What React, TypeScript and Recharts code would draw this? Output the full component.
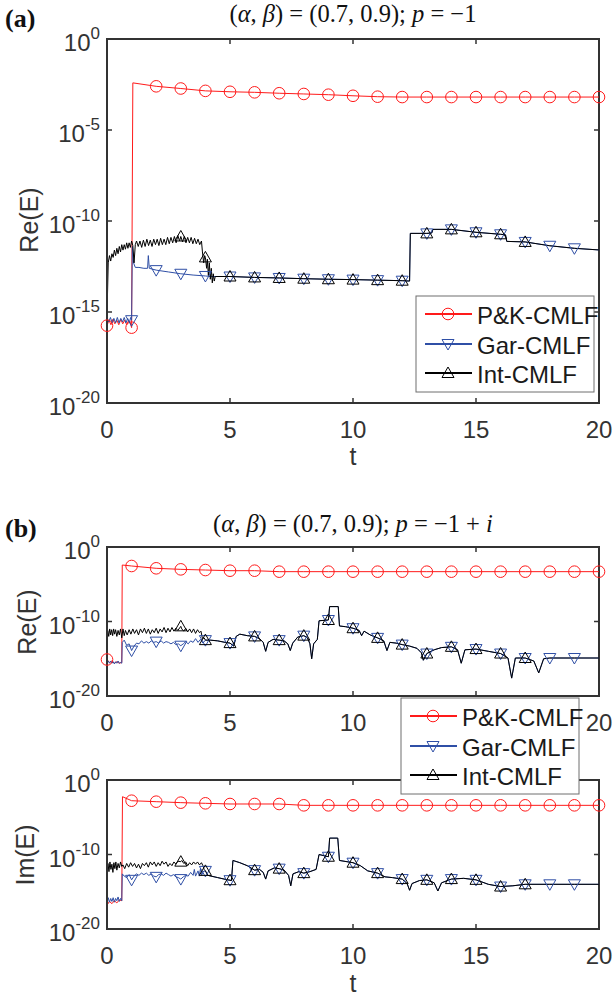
import React from 'react';
import { LineChart, Line, XAxis, YAxis, ReferenceArea } from 'recharts';

// ---------- labels ----------
const xTicks = [0, 5, 10, 15, 20];
const yTicksA = [1e-20, 1e-15, 1e-10, 1e-5, 1];
const yTicksB = [1e-20, 1e-10, 1];
const seriesNames = ['P&K-CMLF', 'Gar-CMLF', 'Int-CMLF'];
const seriesColors = ['#ff1a1a', '#2f4fa6', '#000000'];

// ---------- marker positions (t) ----------
const marksRed0 = [0, 1, 2, 3, 4, 5, 6, 7, 8, 9, 10, 11, 12, 13, 14, 15, 16, 17, 18, 19, 20];
const marksRed1 = [1, 2, 3, 4, 5, 6, 7, 8, 9, 10, 11, 12, 13, 14, 15, 16, 17, 18, 19, 20];
const marksBlue = [1, 2, 3, 4, 5, 6, 7, 8, 9, 10, 11, 12, 13, 14, 15, 16, 17, 18, 19];
const marksBlack = [3, 4, 5, 6, 7, 8, 9, 10, 11, 12, 13, 14, 15, 16, 17];

// ---------- panel (a): [t, log10 Re(E)] ----------
const aRedLog = [
  [0, -15.75], [0.08, -15.45], [0.16, -15.7], [0.24, -15.4], [0.32, -15.65], [0.4, -15.45], [0.48, -15.7],
  [0.56, -15.4], [0.64, -15.65], [0.72, -15.45], [0.8, -15.7], [0.88, -15.45], [0.95, -15.6], [1, -15.86],
  [1.05, -2.41], [2, -2.6], [3, -2.72], [4, -2.85], [5, -2.9], [6, -2.93], [7, -2.98], [8, -3.02], [9, -3.06],
  [10, -3.12], [11, -3.17], [12, -3.19], [13, -3.19], [14, -3.19], [15, -3.19], [16, -3.19], [17, -3.19],
  [18, -3.19], [19, -3.19], [20, -3.19],
];
const aBlueHeadLog = [
  [0, -15.3], [0.07, -15.55], [0.14, -15.3], [0.21, -15.6], [0.28, -15.35], [0.35, -15.6], [0.42, -15.3],
  [0.49, -15.6], [0.56, -15.35], [0.63, -15.55], [0.7, -15.3], [0.77, -15.6], [0.84, -15.35], [0.91, -15.6],
  [0.96, -15.3], [1, -15.45], [1.03, -11.4], [1.08, -12.3], [1.15, -12.55], [1.3, -12.55], [1.5, -12.6],
  [1.65, -12.6], [1.68, -11.9], [1.72, -12.6], [2, -12.7], [2.5, -12.8], [3, -12.9], [3.5, -12.97],
  [4, -13.02], [4.2, -13.05],
];
const aBlackHeadLog = [
  [0, -15.2], [0.05, -12.3], [0.1, -11.9], [0.15, -12.2], [0.2, -11.8], [0.25, -12.0], [0.3, -11.6],
  [0.35, -11.9], [0.4, -11.5], [0.45, -11.8], [0.5, -11.4], [0.55, -11.7], [0.6, -11.3], [0.65, -11.6],
  [0.7, -11.3], [0.75, -11.55], [0.8, -11.2], [0.85, -11.5], [0.9, -11.2], [0.95, -11.45], [1, -11.1],
  [1.05, -11.35], [1.1, -12.3], [1.15, -11.3], [1.2, -11.1], [1.27, -11.4], [1.34, -11.1], [1.41, -11.45],
  [1.48, -11.05], [1.55, -11.4], [1.62, -11.0], [1.69, -11.35], [1.76, -11.05], [1.83, -11.4], [1.9, -11.0],
  [1.97, -11.3], [2.04, -11.0], [2.11, -11.35], [2.18, -10.95], [2.25, -11.3], [2.32, -11.0], [2.39, -11.3],
  [2.46, -10.9], [2.53, -11.25], [2.6, -10.9], [2.67, -11.2], [2.74, -10.85], [2.81, -11.2], [2.88, -10.8],
  [2.95, -11.1], [3, -10.85], [3.07, -11.15], [3.14, -10.85], [3.21, -11.2], [3.28, -10.9], [3.35, -11.2],
  [3.42, -10.9], [3.49, -11.25], [3.56, -10.95], [3.63, -11.25], [3.7, -11.0], [3.77, -11.3], [3.84, -11.1],
  [3.88, -11.7], [3.93, -12.3], [3.97, -11.9], [4, -12.0], [4.05, -12.6], [4.08, -12.1], [4.12, -13.0],
  [4.16, -12.3], [4.2, -13.2], [4.24, -12.6], [4.28, -13.4], [4.32, -12.9], [4.36, -13.3],
];
const aTailLog = [
  [4.4, -13.05], [5, -13.05], [6, -13.1], [7, -13.13], [8, -13.17], [9, -13.2], [10, -13.22], [11, -13.25],
  [12, -13.28], [12.3, -13.3], [12.33, -10.68], [13, -10.68], [13.2, -10.66], [13.25, -10.46], [14, -10.46],
  [15, -10.62], [16, -10.73], [16.2, -10.76], [16.25, -11.12], [17, -11.15], [18, -11.36], [19, -11.5],
  [20, -11.59],
];

// ---------- panel (b) top: [t, log10 Re(E)] ----------
const b1RedLog = [
  [0, -15.1], [0.1, -15.5], [0.2, -15.3], [0.3, -15.6], [0.4, -15.4], [0.5, -15.6], [0.6, -15.5],
  [0.62, -2.42], [1, -2.55], [2, -2.86], [3, -3.0], [4, -3.09], [5, -3.18], [6, -3.18], [7, -3.31],
  [8, -3.31], [9, -3.31], [10, -3.31], [11, -3.31], [12, -3.31], [13, -3.31], [14, -3.31], [15, -3.31],
  [16, -3.31], [17, -3.31], [18, -3.31], [19, -3.31], [20, -3.31],
];
const b1BlueHeadLog = [
  [0, -15.5], [0.05, -15.3], [0.1, -15.6], [0.15, -15.3], [0.2, -15.6], [0.25, -15.4], [0.3, -15.7],
  [0.35, -15.4], [0.4, -15.6], [0.45, -15.3], [0.5, -15.6], [0.55, -15.5], [0.6, -15.6], [0.62, -12.8],
  [0.7, -12.5], [0.8, -13.2], [0.9, -13.0], [1, -13.9], [1.1, -13.3], [1.2, -12.9], [1.3, -13.0],
  [1.4, -12.6], [1.5, -12.9], [1.6, -12.7], [1.7, -12.9], [1.8, -12.6], [1.9, -12.8], [2, -12.7],
  [2.1, -12.9], [2.2, -12.6], [2.3, -12.9], [2.4, -12.7], [2.5, -12.8], [2.6, -13.0], [2.7, -12.8],
  [2.8, -13.1], [2.9, -13.0], [3, -13.25], [3.1, -13.0], [3.2, -12.7], [3.3, -13.0], [3.4, -12.6],
  [3.5, -12.8], [3.6, -12.3], [3.7, -12.8], [3.8, -12.4], [3.9, -12.9],
];
const b1BlackHeadLog = [
  [0, -13.5], [0.03, -11.2], [0.07, -12.0], [0.11, -11.0], [0.15, -11.8], [0.19, -11.1], [0.23, -11.9],
  [0.27, -11.0], [0.31, -11.7], [0.35, -11.1], [0.4, -12.0], [0.45, -11.2], [0.5, -11.8], [0.55, -11.0],
  [0.6, -12.2], [0.65, -11.0], [0.7, -11.9], [0.75, -11.2], [0.82, -11.8], [0.9, -11.1], [0.97, -11.7],
  [1.05, -11.0], [1.12, -11.6], [1.2, -11.1], [1.28, -11.8], [1.36, -11.0], [1.44, -11.5], [1.52, -10.9],
  [1.6, -11.6], [1.68, -11.0], [1.76, -11.7], [1.84, -11.1], [1.92, -11.5], [2, -10.9], [2.08, -11.6],
  [2.16, -11.0], [2.24, -11.4], [2.32, -10.8], [2.4, -11.5], [2.48, -10.9], [2.56, -11.4], [2.64, -10.8],
  [2.72, -11.3], [2.8, -10.9], [2.88, -11.2], [3, -10.65], [3.04, -11.0], [3.12, -11.3], [3.2, -10.9],
  [3.28, -11.4], [3.36, -11.0], [3.44, -11.5], [3.52, -11.0], [3.6, -11.6], [3.68, -11.1], [3.76, -11.5],
  [3.82, -11.3], [3.88, -12.3], [3.95, -12.2],
];
const b1TailLog = [
  [4, -12.5], [4.2, -12.5], [4.5, -12.6], [4.8, -12.8], [5, -12.9], [5.15, -13.3], [5.25, -12.0],
  [5.4, -11.7], [5.7, -11.9], [6, -12.0], [6.2, -12.3], [6.35, -12.8], [6.45, -14.0], [6.55, -12.8],
  [6.75, -12.4], [7, -12.5], [7.2, -12.6], [7.35, -13.0], [7.45, -13.9], [7.55, -12.9], [7.75, -12.1],
  [8, -11.9], [8.15, -12.2], [8.25, -13.0], [8.32, -15.0], [8.4, -13.0], [8.55, -12.4], [8.62, -9.9],
  [9, -9.8], [9.05, -8.0], [9.4, -8.0], [9.45, -10.6], [9.7, -10.7], [10, -10.9], [10.25, -11.2],
  [10.35, -11.9], [10.45, -11.3], [10.7, -11.8], [11, -12.2], [11.25, -12.6], [11.38, -13.9], [11.5, -12.8],
  [11.75, -12.9], [12, -13.1], [12.3, -13.3], [12.6, -13.6], [12.78, -14.2], [12.86, -15.2], [13, -14.3],
  [13.3, -13.8], [13.6, -13.5], [14, -13.4], [14.25, -13.8], [14.4, -15.6], [14.55, -13.8], [15, -13.7],
  [15.5, -14.0], [16, -14.3], [16.3, -14.9], [16.45, -17.6], [16.6, -14.9], [17, -14.9], [17.35, -15.3],
  [17.55, -16.9], [17.75, -15.0], [18, -14.9], [19, -14.9], [20, -14.9],
];

// ---------- panel (b) bottom: [t, log10 Im(E)] ----------
const b2RedLog = [
  [0, -16.8], [0.1, -16.3], [0.2, -16.6], [0.3, -16.2], [0.4, -16.5], [0.5, -16.1], [0.6, -16.2],
  [0.63, -2.24], [1, -2.78], [2, -2.91], [3, -3.04], [4, -3.13], [5, -3.22], [6, -3.22], [7, -3.22],
  [8, -3.4], [9, -3.4], [10, -3.4], [11, -3.4], [12, -3.4], [13, -3.4], [14, -3.4], [15, -3.4], [16, -3.4],
  [17, -3.4], [18, -3.4], [19, -3.4], [20, -3.4],
];
const b2BlueHeadLog = [
  [0, -16.3], [0.05, -15.8], [0.1, -16.4], [0.15, -15.9], [0.2, -16.3], [0.25, -15.8], [0.3, -16.4],
  [0.35, -15.9], [0.4, -16.2], [0.45, -15.7], [0.5, -16.3], [0.55, -15.9], [0.6, -16.2], [0.62, -12.6],
  [0.7, -12.9], [0.8, -13.1], [0.9, -12.7], [1, -13.4], [1.1, -12.9], [1.2, -12.6], [1.3, -12.8],
  [1.4, -12.5], [1.5, -12.7], [1.6, -12.5], [1.7, -12.8], [1.8, -12.6], [1.9, -12.9], [2, -13.0],
  [2.1, -12.7], [2.2, -12.6], [2.3, -12.8], [2.4, -12.5], [2.5, -12.7], [2.6, -12.9], [2.7, -12.7],
  [2.8, -13.0], [2.9, -13.1], [3, -13.3], [3.1, -13.0], [3.2, -12.8], [3.3, -12.9], [3.4, -12.4],
  [3.5, -12.8], [3.55, -12.0], [3.6, -12.9], [3.7, -12.2], [3.75, -12.9], [3.8, -11.9], [3.85, -12.8],
  [3.9, -12.3],
];
const b2BlackHeadLog = [
  [0, -12.6], [0.04, -11.2], [0.08, -12.3], [0.12, -11.0], [0.16, -12.0], [0.2, -11.3], [0.24, -12.4],
  [0.28, -11.1], [0.32, -11.9], [0.36, -11.0], [0.4, -12.1], [0.45, -11.2], [0.5, -11.8], [0.55, -11.0],
  [0.6, -11.6], [0.65, -11.4], [0.72, -11.9], [0.8, -11.2], [0.88, -11.7], [0.96, -11.1], [1.04, -11.6],
  [1.12, -11.2], [1.2, -11.8], [1.28, -11.3], [1.36, -11.9], [1.44, -11.2], [1.52, -11.5], [1.6, -11.1],
  [1.68, -11.7], [1.76, -11.0], [1.84, -11.4], [1.92, -11.0], [2, -11.6], [2.08, -11.1], [2.16, -11.5],
  [2.24, -10.9], [2.32, -11.3], [2.4, -11.0], [2.48, -11.6], [2.56, -11.2], [2.64, -11.5], [2.72, -11.0],
  [2.8, -11.3], [2.88, -10.9], [3, -10.96], [3.04, -10.8], [3.12, -11.2], [3.2, -11.0], [3.28, -11.5],
  [3.36, -11.1], [3.44, -11.4], [3.52, -11.0], [3.6, -11.3], [3.68, -11.0], [3.76, -11.4], [3.84, -11.1],
  [3.9, -11.5], [3.95, -12.0],
];
const b2TailLog = [
  [4, -12.2], [4.1, -12.8], [4.5, -13.1], [4.9, -13.4], [5, -13.45], [5.06, -13.5], [5.12, -10.8],
  [5.4, -11.1], [5.7, -11.5], [6, -12.1], [6.2, -12.0], [6.35, -12.4], [6.45, -13.3], [6.55, -12.2],
  [6.8, -11.8], [7, -11.9], [7.2, -12.1], [7.38, -12.8], [7.47, -14.2], [7.56, -12.6], [7.8, -12.3],
  [8, -12.5], [8.25, -12.3], [8.5, -12.0], [8.62, -10.0], [9, -10.3], [9.05, -7.8], [9.38, -7.8],
  [9.45, -10.8], [10, -11.1], [10.3, -11.5], [10.6, -12.2], [11, -12.5], [11.3, -13.0], [11.6, -13.1],
  [12, -13.3], [12.2, -13.9], [12.3, -14.8], [12.4, -13.9], [12.7, -13.5], [13, -13.4], [13.3, -13.8],
  [13.45, -14.9], [13.6, -13.8], [14, -13.3], [14.5, -13.2], [15, -13.4], [15.5, -14.0], [16, -14.3],
  [16.5, -14.2], [17, -14.0], [18, -14.0], [19, -14.0], [20, -14.0],
];

// ---------- helpers ----------
const toRows = (pts: number[][]) => pts.map(([t, e]) => ({ t, v: Math.pow(10, e) }));

const AX = '#333333';
const FONT = '"Liberation Sans", Arial, Helvetica, sans-serif';
const SERIF = '"Liberation Serif", "Times New Roman", serif';
const PLOT_L = 107;
const PLOT_R = 599;
const TICK_FS = 24;

function Marker({ cx, cy, kind, color }: any) {
  if (kind === 'circle') return <circle cx={cx} cy={cy} r={5.8} fill="none" stroke={color} strokeWidth={1} />;
  if (kind === 'down')
    return <path d={`M${cx - 6},${cy - 4.5} L${cx + 6},${cy - 4.5} L${cx},${cy + 6} Z`} fill="none" stroke={color} strokeWidth={1} />;
  return <path d={`M${cx - 6},${cy + 4.5} L${cx + 6},${cy + 4.5} L${cx},${cy - 6} Z`} fill="none" stroke={color} strokeWidth={1} />;
}

const makeDot = (marks: number[], kind: string, color: string) => (props: any) => {
  const { cx, cy, payload, index } = props;
  if (cx == null || cy == null || !payload || !marks.includes(payload.t)) return <g key={`n${index}`} />;
  return <Marker key={`m${index}`} cx={cx} cy={cy} kind={kind} color={color} />;
};

function Panel({ top, height, plotTop, plotBottom, yTicks, red, blue, black, redMarks, hiddenXLabels }: any) {
  const renderXTick = (p: any) => {
    const { x, payload } = p;
    const v = payload.value;
    const inner = v !== 0 && v !== 20;
    const showLabel = !(hiddenXLabels || []).includes(v);
    return (
      <g key={`xt${v}`}>
        {inner && <line x1={x} x2={x} y1={plotBottom} y2={plotBottom - 5} stroke={AX} strokeWidth={1.5} />}
        {inner && <line x1={x} x2={x} y1={plotTop} y2={plotTop + 5} stroke={AX} strokeWidth={1.5} />}
        {showLabel && (
          <text x={x} y={plotBottom + 26} textAnchor="middle" dominantBaseline="central" fontSize={TICK_FS} fontFamily={FONT} fill={AX}>
            {v}
          </text>
        )}
      </g>
    );
  };
  const renderYTick = (p: any) => {
    const { y, payload } = p;
    const ex = Math.round(Math.log10(payload.value));
    const inner = ex !== 0 && ex !== -20;
    return (
      <g key={`yt${ex}`}>
        {inner && <line x1={PLOT_L} x2={PLOT_L + 5} y1={y} y2={y} stroke={AX} strokeWidth={1.5} />}
        {inner && <line x1={PLOT_R} x2={PLOT_R - 5} y1={y} y2={y} stroke={AX} strokeWidth={1.5} />}
        <text x={100} y={y + 12} textAnchor="end" fontSize={TICK_FS} fontFamily={FONT} fill={AX}>
          10<tspan dy={-12} fontSize={17}>{ex}</tspan>
        </text>
      </g>
    );
  };
  return (
    <div style={{ position: 'absolute', left: 0, top, width: 614, height }}>
      <LineChart width={614} height={height} margin={{ top: plotTop, right: 614 - PLOT_R, bottom: 0, left: 0 }}>
        <XAxis
          dataKey="t"
          type="number"
          domain={[0, 20]}
          ticks={xTicks}
          interval={0}
          height={height - plotBottom}
          tickLine={false}
          axisLine={{ stroke: AX, strokeWidth: 2 }}
          tick={renderXTick}
        />
        <YAxis
          type="number"
          scale="log"
          domain={[1e-20, 1]}
          ticks={yTicks}
          interval={0}
          width={PLOT_L}
          tickLine={false}
          axisLine={{ stroke: AX, strokeWidth: 2 }}
          tick={renderYTick}
        />
        <ReferenceArea x1={0} x2={20} y1={1e-20} y2={1} fill="none" stroke={AX} strokeWidth={2} />
        <Line data={red} dataKey="v" stroke={seriesColors[0]} strokeWidth={1} dot={makeDot(redMarks, 'circle', seriesColors[0])} isAnimationActive={false} />
        <Line data={blue} dataKey="v" stroke={seriesColors[1]} strokeWidth={1} dot={makeDot(marksBlue, 'down', seriesColors[1])} isAnimationActive={false} />
        <Line data={black} dataKey="v" stroke={seriesColors[2]} strokeWidth={1} dot={makeDot(marksBlack, 'up', seriesColors[2])} isAnimationActive={false} />
      </LineChart>
    </div>
  );
}

function LegendBox({ x, y }: any) {
  const kinds = ['circle', 'down', 'up'];
  const rows = [18, 48, 77];
  return (
    <g>
      <rect x={x} y={y} width={178} height={96} fill="#ffffff" stroke="#6e6e6e" strokeWidth={1} />
      {seriesNames.map((n, i) => (
        <g key={n}>
          <line x1={x + 9} x2={x + 56} y1={y + rows[i]} y2={y + rows[i]} stroke={seriesColors[i]} strokeWidth={2} />
          <Marker cx={x + 32} cy={y + rows[i]} kind={kinds[i]} color={seriesColors[i]} />
          <text x={x + 61} y={y + rows[i] + 1} dominantBaseline="central" fontSize={24} fontFamily={FONT} fill="#1a1a1a">
            {n}
          </text>
        </g>
      ))}
    </g>
  );
}

function Title({ y, suffix }: any) {
  return (
    <text x={353} y={y} textAnchor="middle" fontSize={24.5} fontFamily={SERIF} fill="#111">
      <tspan>(</tspan>
      <tspan fontStyle="italic">α</tspan>
      <tspan>, </tspan>
      <tspan fontStyle="italic">β</tspan>
      <tspan>{') = (0.7, 0.9); '}</tspan>
      <tspan fontStyle="italic">p</tspan>
      <tspan>{' = −1'}</tspan>
      {suffix && <tspan>{' + '}</tspan>}
      {suffix && <tspan fontStyle="italic">i</tspan>}
    </text>
  );
}

export default function App() {
  const aRed = toRows(aRedLog);
  const aBlue = toRows([...aBlueHeadLog, ...aTailLog]);
  const aBlack = toRows([...aBlackHeadLog, ...aTailLog]);
  const b1Red = toRows(b1RedLog);
  const b1Blue = toRows([...b1BlueHeadLog, ...b1TailLog]);
  const b1Black = toRows([...b1BlackHeadLog, ...b1TailLog]);
  const b2Red = toRows(b2RedLog);
  const b2Blue = toRows([...b2BlueHeadLog, ...b2TailLog]);
  const b2Black = toRows([...b2BlackHeadLog, ...b2TailLog]);

  return (
    <div style={{ position: 'absolute', left: 0, top: 0, width: 614, height: 1000, background: '#fff', overflow: 'hidden' }}>
      <Panel top={0} height={470} plotTop={39} plotBottom={403} yTicks={yTicksA} red={aRed} blue={aBlue} black={aBlack} redMarks={marksRed0} />
      <Panel top={500} height={260} plotTop={47} plotBottom={196} yTicks={yTicksB} red={b1Red} blue={b1Blue} black={b1Black} redMarks={marksRed0} hiddenXLabels={[15]} />
      <Panel top={733} height={267} plotTop={47} plotBottom={196} yTicks={yTicksB} red={b2Red} blue={b2Blue} black={b2Black} redMarks={marksRed1} />
      <svg width={614} height={1000} style={{ position: 'absolute', left: 0, top: 0, pointerEvents: 'none' }}>
        <text x={5} y={27} fontSize={26} fontWeight="bold" fontFamily={SERIF} fill="#111">(a)</text>
        <Title y={22} suffix={false} />
        <text x={5} y={537} fontSize={26} fontWeight="bold" fontFamily={SERIF} fill="#111">(b)</text>
        <Title y={532} suffix={true} />
        <text transform="translate(29,220) rotate(-90)" textAnchor="middle" dominantBaseline="central" fontSize={25} fontFamily={FONT} fill={AX}>Re(E)</text>
        <text transform="translate(27,622) rotate(-90)" textAnchor="middle" dominantBaseline="central" fontSize={25} fontFamily={FONT} fill={AX}>Re(E)</text>
        <text transform="translate(25,855) rotate(-90)" textAnchor="middle" dominantBaseline="central" fontSize={25} fontFamily={FONT} fill={AX}>Im(E)</text>
        <text x={353} y={456} textAnchor="middle" dominantBaseline="central" fontSize={25} fontFamily={FONT} fill={AX}>t</text>
        <text x={353} y={983} textAnchor="middle" dominantBaseline="central" fontSize={25} fontFamily={FONT} fill={AX}>t</text>
        <LegendBox x={416} y={296} />
        <LegendBox x={401} y={698} />
      </svg>
    </div>
  );
}
